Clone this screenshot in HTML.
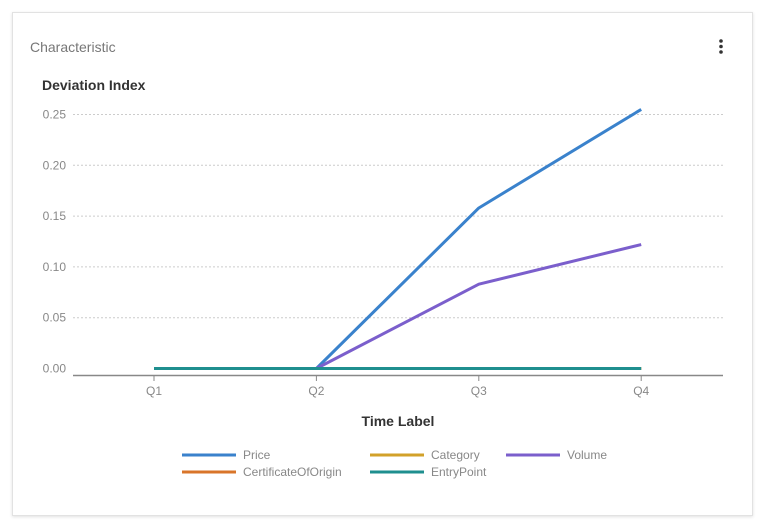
<!DOCTYPE html>
<html><head><meta charset="utf-8"><style>
body{margin:0;width:764px;height:529px;background:#fff;font-family:"Liberation Sans",sans-serif;overflow:hidden}
.card{position:absolute;left:12px;top:12px;width:739px;height:502px;border:1px solid #e2e2e2;box-shadow:0 1px 3px rgba(0,0,0,.12);background:#fff}
</style></head><body>
<div class="card"></div>
<svg width="764" height="529" style="position:absolute;left:0;top:0">
<text x="30" y="52" font-size="14" fill="#777">Characteristic</text>
<g fill="#333"><circle cx="721" cy="41" r="1.8"/><circle cx="721" cy="46.5" r="1.8"/><circle cx="721" cy="52" r="1.8"/></g>
<text x="42" y="90" font-size="14" font-weight="bold" fill="#333">Deviation Index</text>
<g id="grid"></g><g id="series"></g>
<text x="398" y="426" font-size="14" font-weight="bold" fill="#333" text-anchor="middle">Time Label</text>
<g id="legend"></g>
</svg>
<script>
const categories=["Q1","Q2","Q3","Q4"];
const yTicks=[0,0.05,0.10,0.15,0.20,0.25];
const seriesNames=["Price","Category","Volume","CertificateOfOrigin","EntryPoint"];
const seriesColors=["#3a82cc","#d2a12a","#7b5fcc","#d9752a","#1f8f8f"];
const priceValues=[0,0,0.158,0.255];
const categoryValues=[0,0,0,0];
const volumeValues=[0,0,0.083,0.122];
const originValues=[0,0,0,0];
const entryValues=[0,0,0,0];
const allValues=[priceValues,categoryValues,volumeValues,originValues,entryValues];
const NS="http://www.w3.org/2000/svg";
const x0=73,x1=723,y0=368.5,yPer=1016;
const xs=i=>154+i*162.4;
const ys=v=>y0-v*yPer;
function mk(t,a,p){const e=document.createElementNS(NS,t);for(const k in a)e.setAttribute(k,a[k]);p.appendChild(e);return e;}
const grid=document.getElementById('grid');
yTicks.forEach(v=>{
 if(v>0){const l=mk('line',{x1:x0,x2:x1,y1:ys(v),y2:ys(v),stroke:'#ccc','stroke-dasharray':'2,2'},grid);
 
 }
 const t=mk('text',{x:66,y:ys(v)+4,'font-size':12,fill:'#888','text-anchor':'end'},grid);t.textContent=v.toFixed(2);
 
 
});
const ax=mk('line',{x1:x0,x2:x1,y1:375.5,y2:375.5,stroke:'#888','stroke-width':1.5},grid);


categories.forEach((c,i)=>{
 mk('line',{x1:xs(i),x2:xs(i),y1:375,y2:381,stroke:'#888'},grid);
 const t=mk('text',{x:xs(i),y:395,'font-size':12,fill:'#888','text-anchor':'middle'},grid);t.textContent=c;
 
 
});
const sg=document.getElementById('series');
allValues.forEach((vals,s)=>{
 const p=mk('polyline',{points:vals.map((v,i)=>xs(i)+','+ys(v)).join(' '),fill:'none',stroke:seriesColors[s],'stroke-width':3,'stroke-linejoin':'round'},sg);
 
 
});
const lg=document.getElementById('legend');
const lpos=[[182,455],[370,455],[506,455],[182,472],[370,472]];
seriesNames.forEach((n,s)=>{
 const [lx,ly]=lpos[s];
 const g=mk('g',{},lg);
 
 
 mk('line',{x1:lx,x2:lx+54,y1:ly,y2:ly,stroke:seriesColors[s],'stroke-width':3},g);
 const t=mk('text',{x:lx+61,y:ly+4,'font-size':12,fill:'#888'},g);t.textContent=n;
});
</script>
</body></html>
